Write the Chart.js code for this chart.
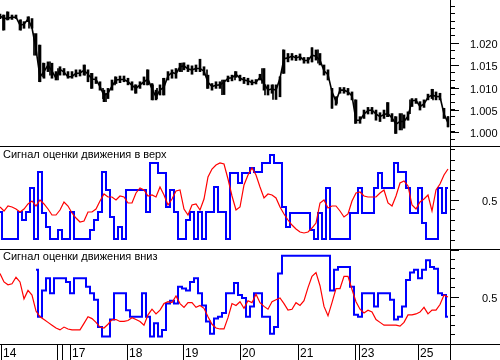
<!DOCTYPE html>
<html><head><meta charset="utf-8">
<script src="https://cdn.jsdelivr.net/npm/chart.js@4/dist/chart.umd.min.js"></script>
<style>
html,body{margin:0;padding:0;background:#fff;}
#wrap{position:relative;width:500px;height:360px;overflow:hidden;background:#fff;}
.pane{position:absolute;left:0;width:500px;}
canvas{display:block;}
</style></head><body>
<div id="wrap">
<div class="pane" style="top:0;height:147px"><canvas id="c1" width="500" height="147"></canvas></div>
<div class="pane" style="top:147px;height:103px"><canvas id="c2" width="500" height="103"></canvas></div>
<div class="pane" style="top:250px;height:110px"><canvas id="c3" width="500" height="110"></canvas></div>
</div>
<script>
// ---------- data (one sample every 4 bars, bar index 0..448) ----------
const BAR_STEP = 4;
const priceClose = [
1.0262,1.0256,1.0257,1.0259,1.0259,1.0241,1.0243,1.0255,1.0235,1.0187,
1.0124,1.0136,1.0151,1.0137,1.0121,1.0141,1.0135,1.0124,1.0125,1.0132,
1.0133,1.0139,1.0130,1.0119,1.0118,1.0102,1.0082,1.0087,1.0103,1.0117,
1.0118,1.0118,1.0113,1.0105,1.0098,1.0106,1.0113,1.0119,1.0097,1.0079,
1.0094,1.0101,1.0126,1.0134,1.0131,1.0147,1.0149,1.0142,1.0140,1.0143,
1.0143,1.0137,1.0112,1.0102,1.0105,1.0106,1.0112,1.0121,1.0122,1.0130,
1.0121,1.0117,1.0115,
1.0111,1.0112,1.0123,1.0109,1.0094,1.0097,1.0094,1.0121,1.0165,1.0167,
1.0171,1.0167,1.0170,1.0161,1.0161,1.0173,1.0171,1.0162,1.0138,1.0129,
1.0090,1.0069,1.0094,1.0094,1.0090,1.0081,1.0026,1.0026,1.0040,1.0048,
1.0049,1.0040,1.0034,1.0039,1.0041,1.0031,1.0017,1.0023,1.0023,1.0035,
1.0070,1.0071,1.0057,1.0063,1.0078,1.0083,1.0080,1.0079,1.0040,1.0020];

const priceHigh = [
1.0266,1.0264,1.0271,1.0264,1.0264,1.0253,1.0249,1.0260,1.0256,1.0222,
1.0196,1.0155,1.0158,1.0155,1.0136,1.0147,1.0143,1.0136,1.0136,1.0140,
1.0140,1.0151,1.0140,1.0132,1.0124,1.0113,1.0094,1.0098,1.0117,1.0124,
1.0126,1.0126,1.0121,1.0113,1.0106,1.0113,1.0124,1.0140,1.0109,1.0094,
1.0106,1.0121,1.0136,1.0140,1.0143,1.0155,1.0156,1.0151,1.0149,1.0151,
1.0164,1.0147,1.0128,1.0109,1.0113,1.0113,1.0117,1.0126,1.0128,1.0136,
1.0128,1.0123,1.0121,
1.0117,1.0118,1.0130,1.0143,1.0106,1.0106,1.0106,1.0124,1.0185,1.0177,
1.0177,1.0173,1.0176,1.0168,1.0168,1.0190,1.0185,1.0177,1.0151,1.0140,
1.0098,1.0079,1.0100,1.0100,1.0098,1.0090,1.0072,1.0034,1.0049,1.0055,
1.0055,1.0049,1.0043,1.0049,1.0066,1.0041,1.0034,1.0041,1.0038,1.0045,
1.0075,1.0075,1.0068,1.0072,1.0085,1.0096,1.0090,1.0087,1.0053,1.0034];

const priceLow = [
1.0256,1.0230,1.0253,1.0254,1.0256,1.0230,1.0234,1.0249,1.0234,1.0173,
1.0113,1.0121,1.0136,1.0121,1.0117,1.0128,1.0128,1.0121,1.0121,1.0124,
1.0126,1.0128,1.0113,1.0098,1.0109,1.0094,1.0068,1.0075,1.0094,1.0109,
1.0111,1.0113,1.0106,1.0094,1.0087,1.0098,1.0106,1.0106,1.0072,1.0072,
1.0083,1.0083,1.0117,1.0121,1.0121,1.0136,1.0140,1.0136,1.0130,1.0136,
1.0136,1.0128,1.0098,1.0094,1.0098,1.0098,1.0084,1.0113,1.0115,1.0123,
1.0115,1.0109,1.0106,
1.0106,1.0108,1.0117,1.0094,1.0083,1.0087,1.0073,1.0079,1.0132,1.0158,
1.0162,1.0161,1.0162,1.0155,1.0155,1.0158,1.0162,1.0151,1.0128,1.0117,
1.0053,1.0060,1.0087,1.0087,1.0083,1.0072,1.0019,1.0019,1.0030,1.0040,
1.0040,1.0026,1.0023,1.0030,1.0034,1.0023,0.9996,1.0004,1.0008,1.0026,
1.0057,1.0064,1.0049,1.0055,1.0072,1.0075,1.0072,1.0072,1.0030,1.0011];

// extra single-bar wicks between samples: [bar index, low, high]
const priceWicks = [
[3,1.0230,1.0264],[7,1.0253,1.0271],[21,1.0230,1.0253],[29,1.0234,1.0260],
[34,1.0173,1.0222],[39,1.0113,1.0196],[43,1.0124,1.0155],[50,1.0128,1.0158],
[58,1.0117,1.0143],[85,1.0128,1.0151],[91,1.0098,1.0132],[103,1.0075,1.0098],
[106,1.0068,1.0087],[115,1.0106,1.0124],[135,1.0087,1.0106],[147,1.0106,1.0140],
[153,1.0072,1.0106],[157,1.0075,1.0098],[163,1.0083,1.0121],[182,1.0136,1.0155],
[192,1.0132,1.0147],[200,1.0136,1.0164],[207,1.0098,1.0140],[222,1.0084,1.0117],
[235,1.0117,1.0136],[262,1.0109,1.0143],[265,1.0083,1.0106],[273,1.0073,1.0106],
[280,1.0079,1.0124],[283,1.0132,1.0185],[312,1.0158,1.0190],[318,1.0155,1.0185],
[332,1.0053,1.0098],[337,1.0064,1.0079],[355,1.0019,1.0072],[387,1.0034,1.0066],
[395,0.9996,1.0034],[402,1.0004,1.0041],[410,1.0041,1.0072],[433,1.0072,1.0096],
[448,1.0011,1.0034]];

const upSignal = [
0.38,0.11,0.11,0.11,0.11,0.38,0.30,0.38,0.62,0.11,0.78,0.37,0.23,0.11,0.11,0.20,0.11,0.11,0.38,0.11,
0.11,0.11,0.11,0.20,0.30,0.38,0.78,0.60,0.33,0.11,0.23,0.11,0.60,0.60,0.60,0.60,0.60,0.38,0.87,0.87,
0.77,0.77,0.43,0.60,0.38,0.11,0.11,0.30,0.38,0.11,0.38,0.11,0.38,0.38,0.63,0.38,0.38,0.11,0.77,0.77,
0.67,0.77,0.77,
0.82,0.78,0.78,0.87,0.87,0.95,0.87,0.87,0.43,0.23,0.37,0.37,0.37,0.37,0.37,0.20,0.11,0.37,0.11,0.62,
0.11,0.11,0.11,0.11,0.11,0.37,0.37,0.62,0.37,0.37,0.37,0.62,0.77,0.62,0.62,0.62,0.87,0.78,0.78,0.62,
0.37,0.37,0.62,0.27,0.11,0.11,0.11,0.62,0.37,0.62];

const upAverage = [
0.43,0.39,0.44,0.43,0.41,0.38,0.41,0.46,0.49,0.44,0.50,0.46,0.41,0.35,0.35,0.40,0.48,0.44,0.37,0.32,
0.28,0.29,0.38,0.38,0.41,0.49,0.56,0.53,0.53,0.50,0.54,0.53,0.47,0.47,0.57,0.62,0.60,0.54,0.55,0.53,
0.63,0.55,0.45,0.51,0.59,0.60,0.41,0.35,0.45,0.46,0.40,0.51,0.73,0.81,0.85,0.87,0.86,0.71,0.54,0.40,
0.43,0.65,0.75,
0.82,0.75,0.63,0.52,0.56,0.55,0.52,0.43,0.36,0.30,0.25,0.21,0.18,0.17,0.18,0.22,0.27,0.47,0.50,0.42,
0.44,0.44,0.39,0.33,0.36,0.49,0.57,0.58,0.54,0.53,0.53,0.53,0.57,0.60,0.47,0.44,0.54,0.67,0.69,0.64,
0.45,0.41,0.48,0.51,0.55,0.39,0.60,0.66,0.75,0.81];

const downSignal = [
null,null,null,null,null,null,null,null,null,0.79,0.29,0.57,0.70,0.54,0.70,0.70,0.70,0.66,0.54,0.70,
0.70,0.70,0.61,0.54,0.47,0.18,0.08,0.08,0.26,0.54,0.54,0.54,0.36,0.29,0.29,0.29,0.54,0.29,0.08,0.22,
0.08,0.15,0.43,0.46,0.43,0.61,0.59,0.57,0.66,0.70,0.54,0.41,0.24,0.11,0.27,0.29,0.33,0.54,0.54,0.65,
0.52,0.49,0.29,
0.40,0.54,0.54,0.29,0.29,0.11,0.18,0.75,0.94,0.94,0.94,0.94,0.94,0.94,0.94,0.94,0.94,0.94,0.94,0.94,
0.57,0.79,0.82,0.82,0.82,0.61,0.31,0.29,0.54,0.54,0.54,0.40,0.54,0.54,0.54,0.47,0.26,0.29,0.40,0.68,
0.76,0.79,0.70,0.79,0.89,0.82,0.80,0.54,0.52,0.29];

const downAverage = [
0.75,0.66,0.63,0.64,0.71,0.66,0.48,0.57,0.52,0.35,0.29,0.26,0.23,0.20,0.17,0.15,0.18,0.16,0.15,0.15,
0.15,0.22,0.29,0.27,0.23,0.18,0.17,0.21,0.26,0.26,0.24,0.24,0.25,0.28,0.26,0.24,0.20,0.31,0.37,0.32,
0.36,0.43,0.45,0.44,0.51,0.43,0.39,0.44,0.44,0.39,0.41,0.38,0.29,0.21,0.17,0.16,0.16,0.28,0.43,0.41,
0.45,0.38,0.46,
0.44,0.53,0.44,0.40,0.37,0.45,0.47,0.49,0.43,0.36,0.37,0.44,0.41,0.46,0.60,0.72,0.76,0.62,0.40,0.30,
0.44,0.59,0.59,0.72,0.72,0.58,0.45,0.37,0.33,0.36,0.34,0.26,0.23,0.20,0.20,0.20,0.20,0.19,0.23,0.31,
0.31,0.32,0.34,0.39,0.32,0.36,0.36,0.42,0.52,0.50];

// axes
const dayTickBars = [1, 57, 62, 70, 127, 183, 240, 298, 355, 359, 418];
const dayTickLabels = ['14', '', '', '17', '18', '19', '20', '21', '', '23', '25'];
const priceTickStep = 0.005 / 3;
const priceLabels = ['1.000', '1.005', '1.010', '1.015', '1.020'];
const signalTicks = [0.1, 0.2, 0.3, 0.4, 0.5, 0.6, 0.7, 0.8, 0.9, 1.0];
const signalLabels = ['0.5'];
const upMajor = [0.5];
const downMajor = [0.5, 1.0];
const upTitle = 'Сигнал оценки движения в верх';
const downTitle = 'Сигнал оценки движения вниз';

// ---------- helpers ----------
const FONT = "'Liberation Sans', Arial, sans-serif";
const pts = arr => arr.map((v, i) => ({x: i * BAR_STEP, y: v}));
const X_MAX = 450;

function framePlugin(opts) {
  return {
    id: 'frame',
    afterDraw(chart) {
      const ctx = chart.ctx;
      const right = Math.round(chart.chartArea.right);
      ctx.save();
      ctx.strokeStyle = '#000';
      ctx.lineWidth = 1;
      ctx.beginPath();
      ctx.moveTo(right + 0.5, 0); ctx.lineTo(right + 0.5, chart.height);
      if (opts.hLine != null) {
        ctx.moveTo(0, opts.hLine + 0.5); ctx.lineTo(chart.width, opts.hLine + 0.5);
      }
      // longer marks for the labelled (major) ticks
      const ys = chart.scales.y;
      (opts.major || []).forEach(v => {
        const py = Math.round(ys.getPixelForValue(v)) + 0.5;
        ctx.moveTo(right, py); ctx.lineTo(right + 9, py);
      });
      ctx.stroke();
      if (opts.title) {
        ctx.fillStyle = '#000';
        ctx.font = '11px ' + FONT;
        ctx.textBaseline = 'alphabetic';
        ctx.textAlign = 'left';
        ctx.fillText(opts.title, 3, opts.titleY);
      }
      ctx.restore();
    }
  };
}

function baseOptions() {
  return {
    responsive: false, animation: false, devicePixelRatio: 1,
    layout: {padding: 0},
    plugins: {legend: {display: false}, tooltip: {enabled: false}, title: {display: false}},
    elements: {point: {radius: 0}, line: {tension: 0}},
  };
}

function xHidden() {
  return {type: 'linear', min: 0, max: X_MAX, offset: false, display: false};
}

function yAxis(min, max, tickVals, labelFn, pad) {
  return {
    type: 'linear', position: 'right', min, max,
    afterFit: s => { s.width = 50; s.paddingTop = 0; s.paddingBottom = 0; },
    afterBuildTicks: s => { s.ticks = tickVals.map(v => ({value: v})); },
    ticks: {autoSkip: false, crossAlign: 'near', padding: pad, labelOffset: 2, color: '#000',
            font: {family: FONT, size: 11}, callback: labelFn},
    grid: {drawOnChartArea: false, drawTicks: true, tickLength: 5, color: '#000', lineWidth: 1},
    border: {display: true, color: '#000', width: 1}
  };
}

// ---------- chart 1: price ----------
const pMin = 0.99654, pMax = 1.0298;
const priceTicks = [];
for (let k = -2; k <= 18; k++) priceTicks.push(1 + k * priceTickStep);
const priceMajor = priceLabels.map(Number);
const o1 = baseOptions();
o1.scales = {
  x: xHidden(),
  y: yAxis(pMin, pMax, priceTicks.filter(v => v > pMin && v < pMax), v => {
    const s = v.toFixed(3);
    return (Math.abs(v * 200 - Math.round(v * 200)) < 1e-6 && priceLabels.includes(s)) ? s : '';
  }, 15)
};
o1.datasets = {bar: {grouped: false}};
new Chart(document.getElementById('c1'), {
  type: 'line',
  data: {datasets: [
    {type: 'bar', data: priceHigh.map((h, i) => ({x: i * BAR_STEP, y: [priceLow[i], h]})),
     backgroundColor: '#000', barThickness: 2, borderWidth: 0},
    {type: 'bar', data: priceWicks.map(w => ({x: w[0], y: [w[1], w[2]]})),
     backgroundColor: '#000', barThickness: 1, borderWidth: 0},
    {type: 'line', data: pts(priceClose), borderColor: '#000', borderWidth: 1.6, fill: false}
  ]},
  options: o1,
  plugins: [framePlugin({hLine: 146, major: priceMajor})]
});

// ---------- chart 2: up signal ----------
const o2 = baseOptions();
o2.scales = {
  x: xHidden(),
  y: yAxis(0, 1.03, signalTicks, v => signalLabels.includes(v.toFixed(1)) ? v.toFixed(1) : '', 27)
};
new Chart(document.getElementById('c2'), {
  type: 'line',
  data: {datasets: [
    {data: pts(upAverage), borderColor: '#ff0000', borderWidth: 1.2, fill: false},
    {data: pts(upSignal), borderColor: '#0000ff', borderWidth: 2, stepped: 'middle', fill: false}
  ]},
  options: o2,
  plugins: [framePlugin({hLine: 102, title: upTitle, titleY: 11, major: upMajor})]
});

// ---------- chart 3: down signal + day axis ----------
const o3 = baseOptions();
o3.scales = {
  x: {
    type: 'linear', min: 0, max: X_MAX, offset: false, position: 'bottom',
    afterBuildTicks: s => { s.ticks = dayTickBars.map(v => ({value: v})); },
    afterFit: s => { s.height = 16; s.paddingLeft = 0; s.paddingRight = 0; },
    ticks: {autoSkip: false, maxRotation: 0, minRotation: 0, align: 'start', labelOffset: 2,
            padding: -14, color: '#000', font: {family: FONT, size: 12},
            callback: (v, i) => dayTickLabels[i]},
    grid: {drawOnChartArea: false, drawTicks: true, tickLength: 16, color: '#000', lineWidth: 1},
    border: {display: true, color: '#000', width: 1}
  },
  y: yAxis(0, 1.0, signalTicks, v => signalLabels.includes(v.toFixed(1)) ? v.toFixed(1) : '', 27)
};
new Chart(document.getElementById('c3'), {
  type: 'line',
  data: {datasets: [
    {data: pts(downAverage), borderColor: '#ff0000', borderWidth: 1.2, fill: false},
    {data: pts(downSignal), borderColor: '#0000ff', borderWidth: 2, stepped: 'middle', fill: false, spanGaps: false}
  ]},
  options: o3,
  plugins: [framePlugin({hLine: 94, title: downTitle, titleY: 10, major: downMajor})]
});
</script>
</body></html>
